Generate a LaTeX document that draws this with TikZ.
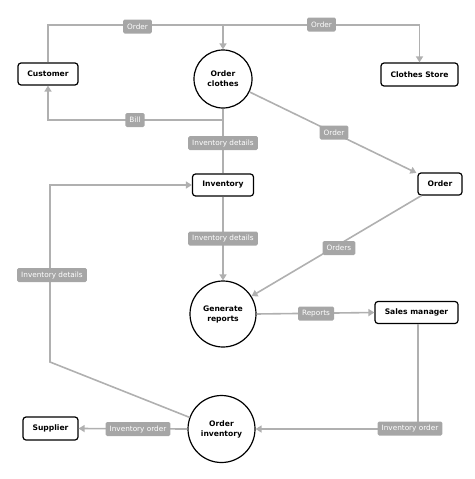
\documentclass[tikz,border=0pt]{standalone}
\usepackage{fontspec}
\setmainfont{DejaVu Sans}
\usetikzlibrary{arrows.meta}
\definecolor{lnc}{HTML}{B0B0B0}
\definecolor{labc}{HTML}{A6A6A6}
\tikzset{
  box/.style={draw=black, line width=1.2pt, rounded corners=3pt, fill=white,
    font=\fontsize{7.6}{9}\selectfont\bfseries, inner sep=0pt},
  proc/.style={draw=black, line width=1.2pt, circle, fill=white,
    font=\fontsize{7.6}{10}\selectfont\bfseries, align=center, inner sep=0pt},
  conn/.style={draw=lnc, line width=1.6pt},
  arr/.style={conn, -{Triangle[length=6pt,width=7pt]}},
  lab/.style={fill=labc, text=white, rounded corners=1.5pt,
    font=\fontsize{7.3}{8}\selectfont, inner xsep=4pt, minimum height=14pt, inner ysep=0pt}
}
\begin{document}
\begin{tikzpicture}[x=1pt,y=-1pt]
\useasboundingbox (0,0) rectangle (474,479);
% nodes
\node[box, minimum width=60pt, minimum height=22pt] (cust) at (48,74) {Customer};
\node[proc, minimum size=58pt] (oc) at (223,79) {Order\\clothes};
\node[box, minimum width=77pt, minimum height=23pt] (cs) at (419.5,74.5) {Clothes Store};
\node[box, minimum width=61pt, minimum height=22pt] (inv) at (223,185) {Inventory};
\node[box, minimum width=44pt, minimum height=22pt] (ord) at (440,184) {Order};
\node[proc, minimum size=66pt] (gr) at (223,314) {Generate\\reports};
\node[box, minimum width=83pt, minimum height=22pt] (sm) at (416.5,312.5) {Sales manager};
\node[proc, minimum size=67pt] (oi) at (221.5,429) {Order\\inventory};
\node[box, minimum width=55pt, minimum height=23pt] (sup) at (50.5,428.5) {Supplier};
% helper coordinates
\coordinate (t1) at (48,25);
\coordinate (t2) at (223,25);
\coordinate (t3) at (419.5,25);
\coordinate (b1) at (223,120);
\coordinate (b2) at (48,120);
\coordinate (s1) at (418,429);
\coordinate (s0) at (418,323.5);
\coordinate (l1) at (50,362);
\coordinate (l2) at (50,185);
% connectors
\draw[arr] (cust.north) -- (t1) -- (t3) -- (cs.north);
\draw[arr] (t2) -- (oc.north);
\draw[arr] (oc.south) -- (b1) -- (b2) -- (cust.south);
\draw[conn] (oc.south) -- (inv.north);
\draw[arr] (oc.-26) -- ([xshift=-1pt,yshift=-0.5pt]ord.north west);
\draw[arr] ([xshift=4pt]ord.south west) -- (gr.32);
\draw[arr] (inv.south) -- (gr.north);
\draw[arr] (gr.east) -- (sm.west);
\draw[arr] (s0) -- (s1) -- (oi.east);
\draw[arr] (oi.west) -- (sup.east);
\draw[arr] (oi.160) -- (l1) -- (l2) -- (inv.west);
% labels
\node[lab] (lo1) at (137.5,26.5) {Order};
\node[lab] (lo2) at (321.5,24.5) {Order};
\node[lab] (lbill) at (135,120) {Bill};
\node[lab] (lid1) at (223,143) {Inventory details};
\node[lab] (lo3) at (334,132.5) {Order};
\node[lab] (lors) at (339,248) {Orders};
\node[lab] (lid2) at (223,238.5) {Inventory details};
\node[lab] (lrep) at (316,313.5) {Reports};
\node[lab] (lio1) at (410,428.5) {Inventory order};
\node[lab] (lio2) at (138,429) {Inventory order};
\node[lab] (lid3) at (52,275) {Inventory details};
\end{tikzpicture}
\end{document}
